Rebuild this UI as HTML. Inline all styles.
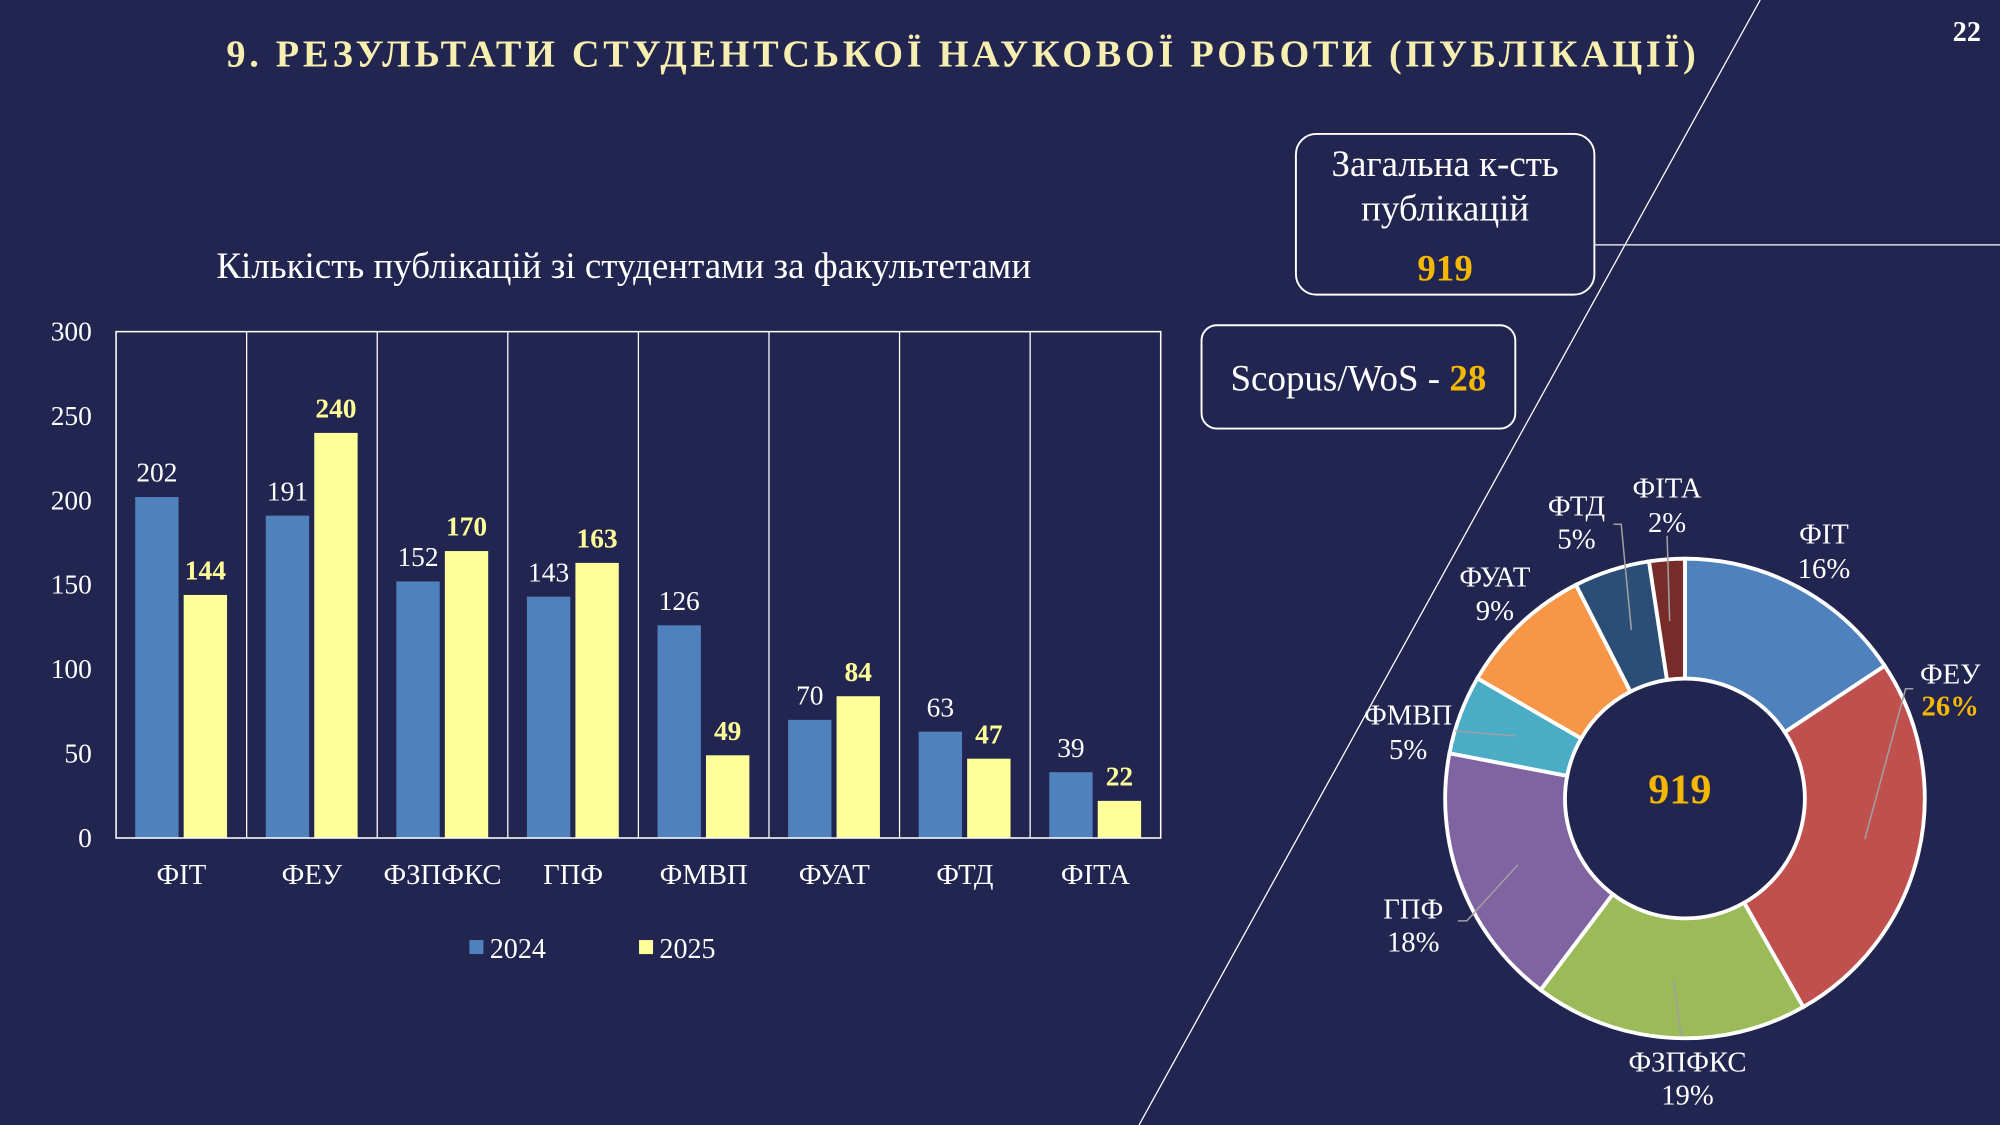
<!DOCTYPE html>
<html><head><meta charset="utf-8"><style>
html,body{margin:0;padding:0;background:#222550;}
svg{display:block;font-family:"Liberation Serif",serif;}
</style></head><body>
<svg id="s" width="2000" height="1125" viewBox="0 0 1568 882" xmlns="http://www.w3.org/2000/svg">
<rect width="1568" height="882" fill="#222550"/>
<line x1="1380" y1="0" x2="893" y2="882" stroke="#ffffff" stroke-width="1"/>
<line x1="1250" y1="192" x2="1568" y2="192" stroke="#ffffff" stroke-width="1"/>
<text x="755" y="52" text-anchor="middle" fill="#f7efb0" font-size="30" font-weight="bold" letter-spacing="3" textLength="1155">9. РЕЗУЛЬТАТИ СТУДЕНТСЬКОЇ НАУКОВОЇ РОБОТИ (ПУБЛІКАЦІЇ)</text>
<text x="1542" y="32" text-anchor="middle" fill="#fff" font-size="22" font-weight="bold">22</text>
<rect x="1016" y="105" width="234" height="126" rx="16" fill="#222550" stroke="#fff" stroke-width="1.5"/>
<text x="1133" y="138" text-anchor="middle" fill="#fff" font-size="29">Загальна к-сть</text>
<text x="1133" y="173" text-anchor="middle" fill="#fff" font-size="29">публікацій</text>
<text x="1133" y="220" text-anchor="middle" fill="#f5b800" font-size="29" font-weight="bold">919</text>
<rect x="942" y="255" width="246" height="81" rx="12" fill="#222550" stroke="#fff" stroke-width="1.5"/>
<text x="1065" y="306" text-anchor="middle" fill="#fff" font-size="29">Scopus/WoS - <tspan fill="#f5b800" font-weight="bold">28</tspan></text>
<text x="489" y="218" text-anchor="middle" fill="#fff" font-size="29">Кількість публікацій зі студентами за факультетами</text>
<g id="bars"></g>
<g id="pie"></g>
<text x="1317" y="630" text-anchor="middle" fill="#f5b800" font-size="33" font-weight="bold">919</text>
<g fill="#fff" font-size="22.5" text-anchor="middle">
<text x="1430" y="426">ФІТ</text><text x="1430" y="453">16%</text>
<text x="1529" y="536">ФЕУ</text><text x="1529" y="561" fill="#f5b800" font-weight="bold">26%</text>
<text x="1323" y="840">ФЗПФКС</text><text x="1323" y="866">19%</text>
<text x="1108" y="720">ГПФ</text><text x="1108" y="746">18%</text>
<text x="1104" y="568">ФМВП</text><text x="1104" y="595">5%</text>
<text x="1172" y="460">ФУАТ</text><text x="1172" y="486">9%</text>
<text x="1236" y="404">ФТД</text><text x="1236" y="430">5%</text>
<text x="1307" y="390">ФІТА</text><text x="1307" y="417">2%</text>
</g>
<g stroke="#a0a0a0" stroke-width="1.2" fill="none">
<polyline points="1462,658 1494,540 1500,540"/>
<line x1="1312" y1="768" x2="1318" y2="812"/>
<polyline points="1190,678 1150,722 1143,722"/>
<line x1="1141" y1="573" x2="1188" y2="577"/>
<polyline points="1279,494 1271,411 1265,411"/>
<line x1="1309" y1="487" x2="1307" y2="420"/>
</g>
<g font-size="22">
<rect x="368" y="737" width="11" height="11" fill="#4f81bd"/><text x="384" y="751" fill="#fff">2024</text>
<rect x="501" y="737" width="11" height="11" fill="#ffff99"/><text x="517" y="751" fill="#fff">2025</text>
</g>
</svg>
<script>
var NS="http://www.w3.org/2000/svg";
function el(p,t,a,txt){var e=document.createElementNS(NS,t);for(var k in a)e.setAttribute(k,a[k]);if(txt!=null)e.textContent=txt;p.appendChild(e);return e;}
var b=document.getElementById("bars");
var cats=["ФІТ","ФЕУ","ФЗПФКС","ГПФ","ФМВП","ФУАТ","ФТД","ФІТА"];
var a=[202,191,152,143,126,70,63,39],c=[144,240,170,163,49,84,47,22];
var x0=91,x1=910,y0=657,yt=260,k=(y0-yt)/300,w=(x1-x0)/8;
for(var i=0;i<=6;i++){var v=i*50,y=y0-v*k;el(b,"text",{x:72,y:y+7,"text-anchor":"end",fill:"#fff","font-size":21.5},v);}
for(var i=0;i<8;i++){var cx=x0+i*w;
 el(b,"rect",{x:cx+15,y:y0-a[i]*k,width:34,height:a[i]*k,fill:"#4f81bd"});
 el(b,"rect",{x:cx+53,y:y0-c[i]*k,width:34,height:c[i]*k,fill:"#ffff99"});
 el(b,"text",{x:cx+32,y:y0-a[i]*k-12,"text-anchor":"middle",fill:"#fff","font-size":21.5},a[i]);
 el(b,"text",{x:cx+70,y:y0-c[i]*k-12,"text-anchor":"middle",fill:"#ffff99","font-size":21.5,"font-weight":"bold"},c[i]);
 el(b,"text",{x:cx+w/2,y:693,"text-anchor":"middle",fill:"#fff","font-size":22.5},cats[i]);
 if(i>0)el(b,"line",{x1:cx,y1:yt,x2:cx,y2:y0,stroke:"#fff","stroke-width":1});
}
el(b,"rect",{x:x0,y:yt,width:x1-x0,height:y0-yt,fill:"none",stroke:"#fff","stroke-width":1.2});
var p=document.getElementById("pie"),cols=["#4f81bd","#c0504d","#9bbb59","#8064a2","#4bacc6","#f79646","#2c4d75","#772c2a"];
var tot=919,ang=0,X=1321,Y=626,R=188,r=94;
function pt(rad,t){return [X+rad*Math.sin(t),Y-rad*Math.cos(t)];}
for(var i=0;i<8;i++){var t0=ang/tot*2*Math.PI;ang+=c[i];var t1=ang/tot*2*Math.PI;var lg=(t1-t0)>Math.PI?1:0;
 var A=pt(R,t0),B=pt(R,t1),C=pt(r,t1),D=pt(r,t0);
 el(p,"path",{d:"M"+A+" A"+R+","+R+" 0 "+lg+" 1 "+B+" L"+C+" A"+r+","+r+" 0 "+lg+" 0 "+D+"Z",fill:cols[i],stroke:"#fff","stroke-width":3});}
</script>
</body></html>
